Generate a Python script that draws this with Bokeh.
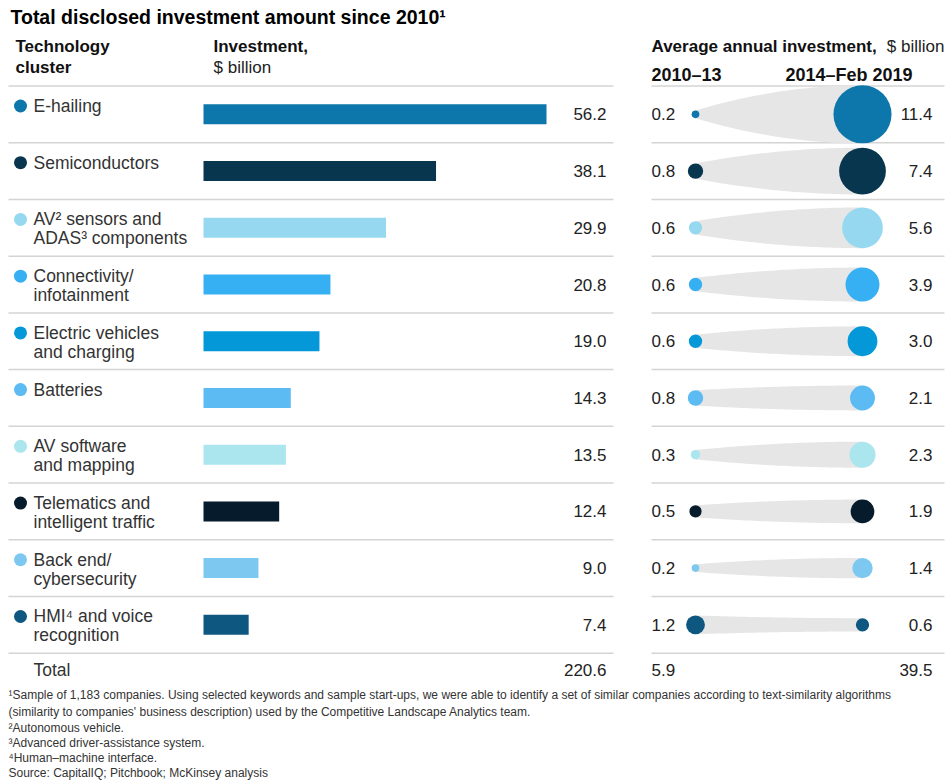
from bokeh.plotting import figure
from bokeh.models import Range1d
from bokeh.core.properties import value
from bokeh.embed import file_html
from bokeh.resources import INLINE
import math

# ---------------- data ----------------
title = "Total disclosed investment amount since 2010¹"
clusters = [
    "E-hailing",
    "Semiconductors",
    "AV² sensors and\nADAS³ components",
    "Connectivity/\ninfotainment",
    "Electric vehicles\nand charging",
    "Batteries",
    "AV software\nand mapping",
    "Telematics and\nintelligent traffic",
    "Back end/\ncybersecurity",
    "HMI⁴ and voice\nrecognition",
]
investment = [56.2, 38.1, 29.9, 20.8, 19.0, 14.3, 13.5, 12.4, 9.0, 7.4]
avg_2010_13 = [0.2, 0.8, 0.6, 0.6, 0.6, 0.8, 0.3, 0.5, 0.2, 1.2]
avg_2014_19 = [11.4, 7.4, 5.6, 3.9, 3.0, 2.1, 2.3, 1.9, 1.4, 0.6]
colors = ["#0d76ab", "#09364f", "#96d8f0", "#36b0f2", "#0598d8",
          "#5cbbf2", "#abe6ef", "#061b2b", "#7cc8f0", "#0d5781"]
total_label = "Total"
total_investment = "220.6"
total_2010_13 = "5.9"
total_2014_19 = "39.5"
footnotes = [
    "¹Sample of 1,183 companies. Using selected keywords and sample start-ups, we were able to identify a set of similar companies according to text-similarity algorithms",
    " (similarity to companies' business description) used by the Competitive Landscape Analytics team.",
    "²Autonomous vehicle.",
    "³Advanced driver-assistance system.",
    "⁴Human–machine interface.",
    " Source: CapitalIQ; Pitchbook; McKinsey analysis",
]

# ---------------- layout ----------------
W, H = 949, 783
FONT = "Liberation Sans"
X0 = 203.0                      # bar origin (px)
K = 343.0 / 56.2                # px per $ billion
SEP0 = 85.5                     # first separator (px)
ROWH = 56.72                    # row height (px)
ROW0 = SEP0 + ROWH / 2          # first row centre (px)
R_K = 8.6                       # bubble radius px per sqrt($bn)
DOT_A, DOT_B = 695.0, 862.0     # bubble centres (px)

def X(px):
    return (px - X0) / K

def Y(py):
    return (py - ROW0) / ROWH

p = figure(width=W, height=H, output_backend="svg", toolbar_location=None,
           x_range=Range1d(X(0), X(W)), y_range=Range1d(Y(H), Y(0)),
           x_axis_type=None, y_axis_type=None, min_border=0)
p.grid.visible = False
p.outline_line_color = None
p.background_fill_color = "white"
p.border_fill_color = "white"

def add_text(xs, ys, texts, size, bold=False, align="left", color="#333333"):
    p.text(x=[X(v) for v in xs], y=[Y(v) for v in ys], text=texts,
           text_font=value(FONT), text_font_size=f"{size}px",
           text_font_style="bold" if bold else "normal",
           text_align=align, text_baseline="middle", text_color=color)

n = len(clusters)
rows = list(range(n))

# separators
sep_y = [SEP0 + i * ROWH for i in range(n + 1)]
p.segment(x0=[X(8)] * len(sep_y), x1=[X(613)] * len(sep_y),
          y0=[Y(v) for v in sep_y], y1=[Y(v) for v in sep_y],
          line_color="#d4d4d4", line_width=1.5)
p.segment(x0=[X(651)] * len(sep_y), x1=[X(944)] * len(sep_y),
          y0=[Y(v) for v in sep_y], y1=[Y(v) for v in sep_y],
          line_color="#d4d4d4", line_width=1.5)

# bars
p.hbar(y=rows, left=0, right=investment, height=20 / ROWH,
       fill_color=colors, line_color=None)

# gray tapered bands
xs_band, ys_band = [], []
for i in rows:
    r0 = R_K * math.sqrt(avg_2010_13[i])
    r1 = R_K * math.sqrt(avg_2014_19[i])
    steps = 40
    top, bot = [], []
    for s in range(steps + 1):
        t = s / steps
        h = r0 + (r1 - r0) * (1 - (1 - t) ** 2)
        px = DOT_A + (DOT_B - DOT_A) * t
        top.append((X(px), i - h / ROWH))
        bot.append((X(px), i + h / ROWH))
    pts = top + bot[::-1]
    xs_band.append([a for a, b in pts])
    ys_band.append([b for a, b in pts])
p.patches(xs_band, ys_band, fill_color="#e6e6e6", line_color=None)

# bubbles
p.scatter(x=[X(DOT_A)] * n, y=rows,
          size=[2 * R_K * math.sqrt(v) for v in avg_2010_13],
          fill_color=colors, line_color=None)
p.scatter(x=[X(DOT_B)] * n, y=rows,
          size=[2 * R_K * math.sqrt(v) for v in avg_2014_19],
          fill_color=colors, line_color=None)

# legend dots + labels
row_tops = sep_y[:n]
p.scatter(x=[X(20)] * n, y=[Y(t + 20) for t in row_tops], size=13,
          fill_color=colors, line_color=None)
lx, ly, lt = [], [], []
for i, lab in enumerate(clusters):
    for j, line in enumerate(lab.split("\n")):
        lx.append(33)
        ly.append(row_tops[i] + 20 + 19 * j)
        lt.append(line)
add_text(lx, ly, lt, 17.5)

# values
row_c = [ROW0 + i * ROWH for i in rows]
add_text([606] * n, row_c, [f"{v:.1f}" for v in investment], 17, align="right", color="#222222")
add_text([651] * n, row_c, [f"{v:.1f}" for v in avg_2010_13], 17, color="#222222")
add_text([932] * n, row_c, [f"{v:.1f}" for v in avg_2014_19], 17, align="right", color="#222222")

# totals
ty = 669
add_text([33], [ty], [total_label], 17.5)
add_text([606], [ty], [total_investment], 17, align="right", color="#222222")
add_text([651], [ty], [total_2010_13], 17, color="#222222")
add_text([932], [ty], [total_2014_19], 17, align="right", color="#222222")

# title & headers
add_text([10], [16], [title], 19.5, bold=True, color="#000000")
add_text([15, 15], [46, 67], ["Technology", "cluster"], 17, bold=True, color="#111111")
add_text([213], [46], ["Investment,"], 17, bold=True, color="#111111")
add_text([213], [67], ["$ billion"], 17, color="#222222")
add_text([651], [46], ["Average annual investment,"], 17, bold=True, color="#111111")
add_text([944], [46], ["$ billion"], 17, align="right", color="#222222")
add_text([651], [74], ["2010–13"], 18, bold=True, color="#111111")
add_text([785], [74], ["2014–Feb 2019"], 18, bold=True, color="#111111")

# footnotes
fy = [694, 711, 727, 742, 757, 772]
add_text([8] * len(footnotes), fy, footnotes, 12, color="#333333")

open("out.html", "w").write(file_html(p, INLINE))
